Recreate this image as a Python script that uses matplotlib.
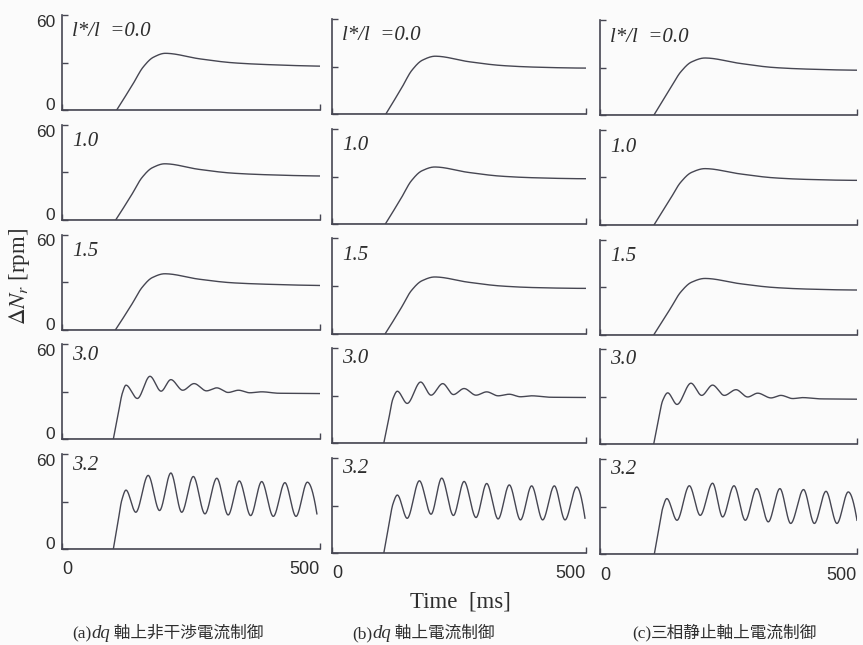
import numpy as np
import matplotlib
matplotlib.use("Agg")
import matplotlib.pyplot as plt

plt.rcParams['mathtext.fontset'] = 'stix'

W, H = 863, 645

# ---- data: speed deviation responses (time in ms, dN_r in rpm) ----
# Key points of each trace (onset, turning points, extrema, tail)
ratio_labels = ["l*/l  =0.0", "1.0", "1.5", "3.0", "3.2"]
captions = [("(a)", "dq", " 軸上非干渉電流制御"),
            ("(b)", "dq", " 軸上電流制御"),
            ("(c)", "", "三相静止軸上電流制御")]

# column (a)
t_a1 = [106, 138, 157, 177, 200, 267, 332, 396, 500]
v_a1 = [0, 16.7, 27.0, 33.3, 35.8, 32.3, 29.8, 28.7, 27.7]
t_a2 = [104, 136, 155, 175, 199, 265, 330, 395, 500]
v_a2 = [0, 16.5, 26.8, 33.0, 35.5, 32.0, 29.6, 28.6, 27.8]
t_a3 = [104, 136, 155, 175, 199, 265, 330, 395, 500]
v_a3 = [0, 16.3, 26.5, 32.8, 35.2, 31.8, 29.5, 28.6, 27.8]
t_a4 = [99.5, 108.5, 117, 124, 146, 170.5, 192, 211, 234, 256, 280, 300, 322,
        342, 364, 387, 420, 460, 500]
v_a4 = [0, 15, 29, 34.0, 25.6, 39.6, 30.2, 37.5, 30.8, 35.0, 30.4, 32.3, 29.4,
        30.8, 29.2, 29.8, 28.9, 28.8, 28.7]
t_a5 = [99.5, 108, 116, 124, 143, 167, 189, 211, 232, 254.5, 277, 300, 322,
        343.6, 365.6, 387, 409.5, 432, 453.5, 475.5, 494]
v_a5 = [0, 16, 31, 37.2, 23.2, 46.5, 24.3, 48.0, 23.2, 45.8, 22.2, 44.7, 21.5,
        43.0, 21.1, 42.6, 20.6, 41.9, 20.6, 42.2, 22.2]

# column (b)
t_b1 = [106, 138, 157, 178, 203, 270, 335, 400, 500]
v_b1 = [0, 17.0, 27.5, 34.0, 36.5, 33.0, 30.6, 29.6, 29.0]
t_b2 = [105, 137, 156, 177, 202, 268, 333, 398, 500]
v_b2 = [0, 16.8, 27.2, 33.6, 36.0, 32.6, 30.2, 29.2, 28.6]
t_b3 = [105, 137, 156, 177, 202, 268, 333, 398, 500]
v_b3 = [0, 16.6, 27.0, 33.3, 35.7, 32.4, 30.0, 29.0, 28.5]
t_b4 = [102, 111, 120, 128.6, 148, 174.5, 195, 218, 239, 260, 283.5, 304.5,
        327, 349, 371, 393, 430, 470, 500]
v_b4 = [0, 14, 28, 32.7, 25.0, 38.5, 30.2, 37.5, 30.6, 34.4, 30.2, 32.3,
        29.8, 30.8, 29.2, 29.8, 28.9, 28.8, 28.75]
t_b5 = [102, 111, 120, 128.6, 148, 172, 195, 216, 239, 260, 283.5, 304.5,
        327, 349, 371, 393, 414.7, 437.7, 458.7, 481.7, 498]
v_b5 = [0, 16, 31, 36.6, 21.9, 45.6, 24.5, 47.3, 23.7, 45.2, 22.4, 43.9,
        21.5, 43.0, 20.9, 42.4, 20.9, 42.4, 20.9, 41.7, 22.0]

# column (c)
t_c1 = [105, 137, 157, 178, 204, 272, 338, 402, 500]
v_c1 = [0, 16.8, 27.2, 33.5, 36.0, 32.6, 30.0, 29.0, 28.3]
t_c2 = [105, 137, 157, 178, 204, 272, 338, 402, 500]
v_c2 = [0, 16.6, 27.0, 33.2, 35.6, 32.3, 29.8, 28.8, 28.2]
t_c3 = [105, 137, 157, 178, 204, 272, 338, 402, 500]
v_c3 = [0, 16.4, 26.8, 33.0, 35.4, 32.1, 29.7, 28.7, 28.1]
t_c4 = [104.5, 113, 122, 131.7, 149.8, 177, 197.8, 219, 241.9, 264.6, 287.3,
        306.8, 332.7, 352, 375, 394, 430, 470, 500]
v_c4 = [0, 14, 27.5, 32.3, 25.0, 38.4, 30.7, 37.2, 30.7, 34.3, 29.7,
        32.1, 29.1, 30.7, 28.7, 29.3, 28.5, 28.4, 28.3]
t_c5 = [105.7, 114, 122, 130, 149.8, 173.8, 195, 219, 238.6, 260.7, 282.7,
        304.8, 327.4, 350, 371, 396, 417, 439.7, 461, 483, 500]
v_c5 = [0, 15, 29, 35.0, 21.3, 43.1, 24.4, 44.7, 23.4, 43.1, 21.3,
        41.3, 20.3, 41.3, 19.3, 40.7, 19.3, 39.6, 19.3, 39.2, 21.3]

T = [[t_a1, t_a2, t_a3, t_a4, t_a5],
     [t_b1, t_b2, t_b3, t_b4, t_b5],
     [t_c1, t_c2, t_c3, t_c4, t_c5]]
V = [[v_a1, v_a2, v_a3, v_a4, v_a5],
     [v_b1, v_b2, v_b3, v_b4, v_b5],
     [v_c1, v_c2, v_c3, v_c4, v_c5]]

x_ticks = [0, 500]
y_ticks = [0, 30, 60]
y_ticklabels = ["0", "", "60"]


def pchip(x, y, xs):
    """Monotone piecewise cubic Hermite curve through the key points."""
    x = np.asarray(x, float)
    y = np.asarray(y, float)
    h = np.diff(x)
    dl = np.diff(y) / h
    n = len(x)
    d = np.zeros(n)
    for k in range(1, n - 1):
        if dl[k - 1] * dl[k] > 0:
            w1 = 2 * h[k] + h[k - 1]
            w2 = h[k] + 2 * h[k - 1]
            d[k] = (w1 + w2) / (w1 / dl[k - 1] + w2 / dl[k])

    def end(h0, h1, d0, d1):
        e = ((2 * h0 + h1) * d0 - h0 * d1) / (h0 + h1)
        if np.sign(e) != np.sign(d0):
            e = 0.0
        elif np.sign(d0) != np.sign(d1) and abs(e) > abs(3 * d0):
            e = 3 * d0
        return e

    d[0] = end(h[0], h[1], dl[0], dl[1])
    d[-1] = end(h[-1], h[-2], dl[-1], dl[-2])
    idx = np.clip(np.searchsorted(x, xs) - 1, 0, n - 2)
    hh = h[idx]
    s = (xs - x[idx]) / hh
    h00 = 2 * s**3 - 3 * s**2 + 1
    h10 = s**3 - 2 * s**2 + s
    h01 = -2 * s**3 + 3 * s**2
    h11 = s**3 - s**2
    return h00 * y[idx] + h10 * hh * d[idx] + h01 * y[idx + 1] + h11 * hh * d[idx + 1]


ink = "#464652"
txt_col = "#2e2e2e"
fig = plt.figure(figsize=(W / 100, H / 100), dpi=100)
fig.patch.set_facecolor("#fbfbfb")

col_left = [62, 332, 600]
col_right = [320, 586, 857]
col_shift = [0, 4, 5]
row_bottom = [110, 220, 329.5, 439, 549]
row_height = 95

num_font = ["Liberation Sans Narrow", "Liberation Sans", "DejaVu Sans"]
serif = ["Liberation Serif", "DejaVu Serif"]

for c in range(3):
    for r in range(5):
        b = row_bottom[r] + col_shift[c]
        ax = fig.add_axes([col_left[c] / W, 1 - b / H,
                           (col_right[c] - col_left[c]) / W, row_height / H])
        ax.set_facecolor("none")
        t = T[c][r]
        v = V[c][r]
        ax.plot([0, t[0]], [0, 0], color=ink, lw=1.0, solid_capstyle="butt")
        ts = np.linspace(t[0], t[-1], 800)
        ax.plot(ts, pchip(t, v, ts), color=ink, lw=1.0)
        ax.set_xlim(0, 500)
        ax.set_ylim(0, 60)
        for side in ("top", "right"):
            ax.spines[side].set_visible(False)
        for side in ("left", "bottom"):
            ax.spines[side].set_color(ink)
            ax.spines[side].set_linewidth(1.2)
        ax.set_xticks(x_ticks)
        ax.set_yticks(y_ticks)
        ax.tick_params(direction="in", length=4, width=1.0, color=ink,
                       labelcolor=txt_col)
        if c == 0:
            labs = ax.set_yticklabels(y_ticklabels, family=num_font, fontsize=12.5)
            labs[0].set_va("baseline")
            labs[2].set_va("top")
            ax.tick_params(axis="y", pad=5)
        else:
            ax.set_yticklabels([])
        if r == 4:
            labs = ax.set_xticklabels(["0", "500"], family=num_font, fontsize=13)
            labs[0].set_ha("left")
            labs[1].set_ha("right")
            ax.tick_params(axis="x", pad=9)
        else:
            ax.set_xticklabels([])
        dy = -17 if r < 3 else -11
        ax.annotate(ratio_labels[r], xy=(0, 1), xycoords="axes fraction",
                    xytext=(10, dy), textcoords="offset pixels",
                    ha="left", va="center", fontsize=15, style="italic",
                    family=serif, color=txt_col)

# axis titles
fig.text(20 / W, 1 - 276 / H, r"$\Delta N_r$ [rpm]", rotation=90,
         ha="center", va="center", fontsize=16.5, family=serif, color=txt_col)
fig.text(460 / W, 1 - 602 / H, "Time  [ms]", ha="center", va="center",
         fontsize=16.5, family=serif, color=txt_col)

# sub-figure captions built from serif / italic / CJK pieces
renderer = fig.canvas.get_renderer()
cap_x = [72, 352, 632]
for (tag, sym, jp), x0 in zip(captions, cap_x):
    x = x0 / W
    y = 1 - 638 / H
    pieces = [(tag, dict(family=serif, fontsize=12.5)),
              (sym, dict(family=serif, fontsize=13.5, style="italic")),
              (jp, dict(family=["Noto Sans CJK JP", "DejaVu Sans"], fontsize=12))]
    for s, kw in pieces:
        if not s:
            continue
        txt = fig.text(x, y, s, ha="left", va="baseline", color=txt_col, **kw)
        bb = txt.get_window_extent(renderer)
        x = bb.x1 / W

fig.savefig("out.png", dpi=100, facecolor=fig.get_facecolor())
